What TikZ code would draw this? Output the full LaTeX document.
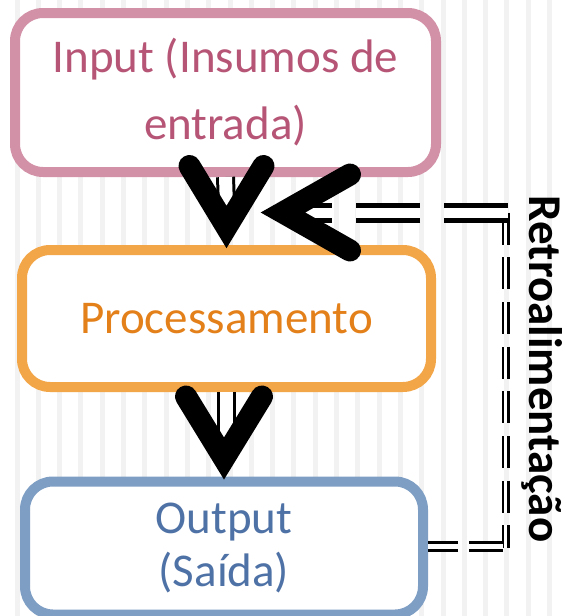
\documentclass[tikz,border=0pt]{standalone}
\usepackage{fontspec}
\setmainfont{Carlito}
\usetikzlibrary{positioning}
\definecolor{inborder}{RGB}{210,145,167}
\definecolor{intext}{RGB}{183,85,118}
\definecolor{procborder}{RGB}{243,166,72}
\definecolor{proctext}{RGB}{227,128,25}
\definecolor{outborder}{RGB}{126,158,196}
\definecolor{outtext}{RGB}{79,114,166}
\definecolor{stripe}{RGB}{242,242,242}

\begin{document}
\begin{tikzpicture}[x=1pt,y=-1pt,
	box/.style={draw, line width=10pt, rounded corners=28pt, fill=white, align=center, inner sep=0pt},
	chevron/.style={draw, line width=22pt, line cap=round, line join=miter,
		preaction={draw=black!30, opacity=.5, transform canvas={shift={(3pt,-4pt)}}}},
	shaft/.style={double, line width=3pt, double distance=13pt},
	feedback/.style={double}]
\useasboundingbox (0,0) rectangle (566,616);
\foreach \x in {0,...,25}
	\fill[stripe] ({14.5+21.3*\x},0) rectangle ++(5,616);

\node[box, draw=inborder, text=intext, minimum width=421pt, minimum height=159pt,
	font=\fontsize{47}{67}\selectfont] (input) at (225.5,92.5) {Input (Insumos de\\entrada)};
\node[box, draw=procborder, text=proctext, minimum width=409pt, minimum height=137pt,
	font=\fontsize{47}{54}\selectfont] (proc) at (226.5,318.5) {\raisebox{-3pt}{Processamento}};
\node[box, draw=outborder, text=outtext, minimum width=398pt, minimum height=133pt,
	font=\fontsize{47}{53}\selectfont] (output) at (224,548) {Output\\(Saída)};

% feedback loop
\coordinate (fbtip) at (260,212.5);
\coordinate (fbtop) at (505.5,212.5);
\coordinate (fbbot) at (505.5,546);
\draw[feedback, line width=2.5pt, double distance=3pt, dash pattern=on 32pt off 12.7pt] (fbtop) -- ([yshift=-2pt]fbbot);
\draw[feedback, line width=3pt, double distance=5pt, dash pattern=on 34pt off 11pt] ([xshift=-2.5pt]fbbot) -- (output.east |- fbbot);
\draw[feedback, line width=5pt, double distance=10pt, dash pattern=on 64pt off 24pt] ([xshift=2.5pt]fbtop) -- ([xshift=42pt]fbtip);
\draw[chevron, shift={(fbtip)}] (90,-38) -- (23,0) -- (90,38);

\draw[shaft] (input.south) -- ([yshift=38pt]proc.north);
\draw[chevron, shift={(proc.north)}] (-37,-79) -- (0,-18) -- (37,-79);

\draw[shaft] (proc.south) -- ([yshift=38pt]proc.south |- output.north);
\draw[chevron, shift={(output.north)}] (-38,-80) -- (0,-18) -- (38,-80);

\node[rotate=-90, font=\bfseries\fontsize{47}{47}\selectfont] (retro) at (542,369) {Retroalimentação};
\end{tikzpicture}
\end{document}
